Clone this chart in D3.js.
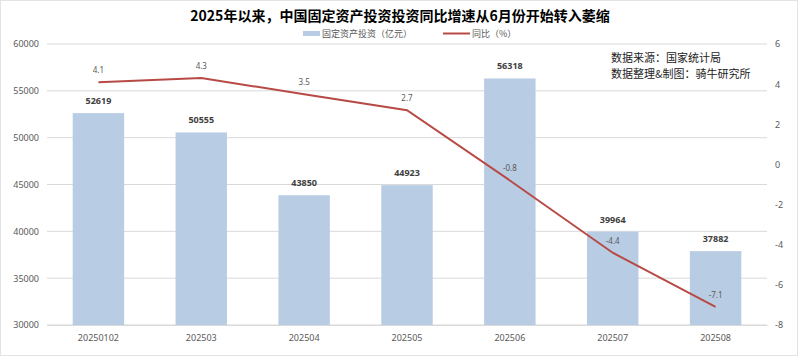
<!DOCTYPE html>
<html><head><meta charset="utf-8">
<script src="https://cdn.jsdelivr.net/npm/d3@7"></script>
<style>
html,body{margin:0;padding:0;background:#fff;}
svg{display:block;font-family:"Noto Sans CJK SC","Noto Sans",sans-serif;}
</style></head>
<body>
<svg id="c" width="800" height="358"></svg>
<script>
const categories = ["20250102","202503","202504","202505","202506","202507","202508"];
const investment = [52619,50555,43850,44923,56318,39964,37882];
const yoy = [4.1,4.3,3.5,2.7,-0.8,-4.4,-7.1];
const leftTicks = [30000,35000,40000,45000,50000,55000,60000];
const rightTicks = [-8,-6,-4,-2,0,2,4,6];

const svg = d3.select("#c");
const W = 800, H = 358;
const m = {l:47, r:767, t:44, b:325};

svg.append("rect").attr("x",0.5).attr("y",0.5).attr("width",W-3).attr("height",H-3)
  .attr("fill","#fff").attr("stroke","#e3e3e3");

const x = d3.scaleBand().domain(categories).range([m.l,m.r]).paddingInner(0.5).paddingOuter(0.25);
const yL = d3.scaleLinear().domain([30000,60000]).range([m.b,m.t]);
const yR = d3.scaleLinear().domain([-8,6]).range([m.b,m.t]);

// gridlines
svg.append("g").selectAll("line").data(leftTicks).join("line")
  .attr("x1",m.l).attr("x2",m.r).attr("y1",d=>yL(d)).attr("y2",d=>yL(d))
  .attr("stroke","#d9d9d9").attr("stroke-width",1);

const plain = d => String(d);

// left axis
const axL = svg.append("g").attr("transform",`translate(${m.l},0)`)
  .call(d3.axisLeft(yL).tickValues(leftTicks).tickFormat(plain).tickSize(0).tickPadding(8));
axL.select(".domain").remove();
axL.selectAll("text").attr("font-size",9).attr("fill","#595959").attr("font-family","Noto Sans, sans-serif");

// right axis
const axR = svg.append("g").attr("transform",`translate(${m.r},0)`)
  .call(d3.axisRight(yR).tickValues(rightTicks).tickFormat(plain).tickSize(0).tickPadding(8));
axR.select(".domain").remove();
axR.selectAll("text").attr("font-size",9).attr("fill","#595959").attr("font-family","Noto Sans, sans-serif");

// bottom axis
const axB = svg.append("g").attr("transform",`translate(0,${m.b})`)
  .call(d3.axisBottom(x).tickSize(0).tickPadding(10));
axB.select(".domain").attr("stroke","#d9d9d9");
axB.selectAll("text").attr("font-size",9).attr("fill","#595959").attr("font-family","Noto Sans, sans-serif");

// bars
svg.append("g").selectAll("rect").data(categories).join("rect")
  .attr("x",d=>x(d)).attr("width",x.bandwidth())
  .attr("y",(d,i)=>yL(investment[i])).attr("height",(d,i)=>m.b-yL(investment[i]))
  .attr("fill","#b8cce4");

// bar labels
svg.append("g").selectAll("text").data(categories).join("text")
  .attr("x",d=>x(d)+x.bandwidth()/2).attr("y",(d,i)=>yL(investment[i])-9)
  .attr("text-anchor","middle").attr("font-size",9).attr("font-weight","bold")
  .attr("fill","#404040").attr("font-family","Noto Sans, sans-serif")
  .text((d,i)=>investment[i]);

// line
const line = d3.line().x((d,i)=>x(categories[i])+x.bandwidth()/2).y(d=>yR(d));
svg.append("path").datum(yoy).attr("d",line).attr("fill","none")
  .attr("stroke","#b84a45").attr("stroke-width",2);

// line labels
svg.append("g").selectAll("text").data(yoy).join("text")
  .attr("x",(d,i)=>x(categories[i])+x.bandwidth()/2).attr("y",d=>yR(d)-9)
  .attr("text-anchor","middle").attr("font-size",8).attr("fill","#595959")
  .attr("font-family","Noto Sans, sans-serif")
  .text(d=>d);

// title
svg.append("text").attr("x",400).attr("y",21).attr("text-anchor","middle")
  .attr("font-size",14).attr("font-weight","bold").attr("fill","#000")
  .text("2025年以来，中国固定资产投资投资同比增速从6月份开始转入萎缩");

// legend
const lg = svg.append("g");
lg.append("rect").attr("x",303).attr("y",31).attr("width",17).attr("height",5).attr("fill","#b8cce4");
lg.append("text").attr("x",322).attr("y",37).attr("font-size",9).attr("fill","#595959").text("固定资产投资（亿元）");
lg.append("line").attr("x1",443).attr("x2",470).attr("y1",33.5).attr("y2",33.5).attr("stroke","#b84a45").attr("stroke-width",2);
lg.append("text").attr("x",472).attr("y",37).attr("font-size",9).attr("fill","#595959").text("同比（%）");

// source note
svg.append("text").attr("x",611).attr("y",62).attr("font-size",11).attr("fill","#222").text("数据来源：国家统计局");
svg.append("text").attr("x",611).attr("y",78).attr("font-size",11).attr("fill","#222").text("数据整理&制图：骑牛研究所");
</script>
</body></html>
